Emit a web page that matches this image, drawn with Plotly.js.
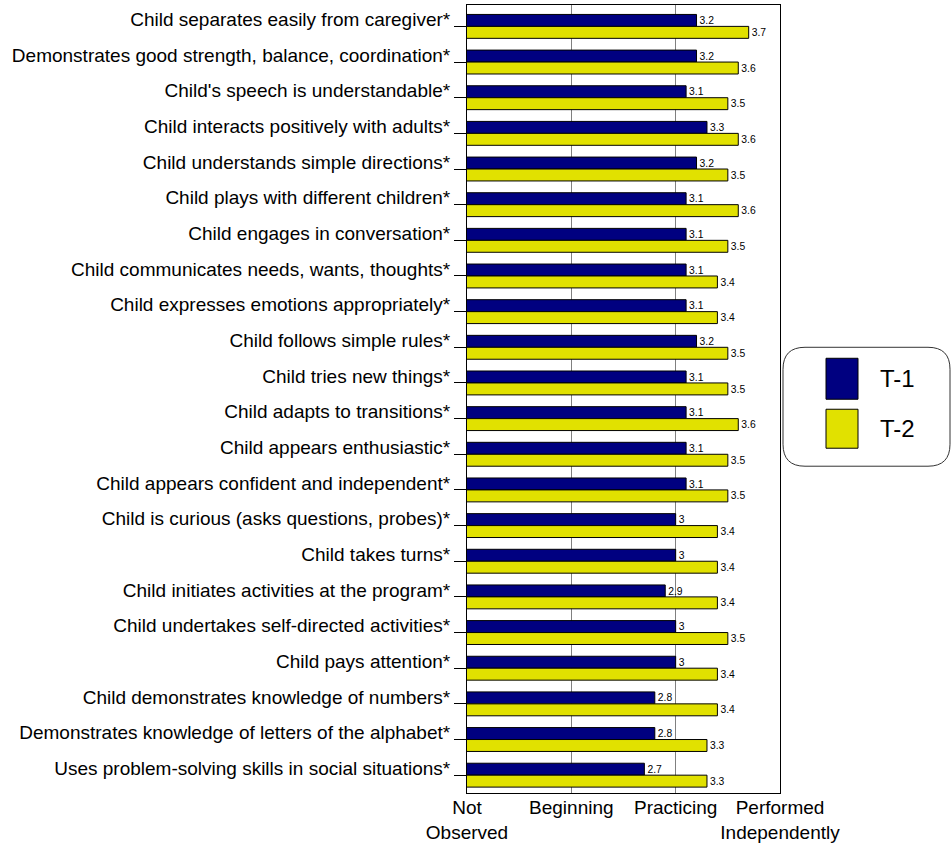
<!DOCTYPE html>
<html><head><meta charset="utf-8">
<script src="https://cdn.plot.ly/plotly-3.0.1.min.js"></script>
<style>html,body{margin:0;padding:0;background:#fff}</style>
</head><body><div id="chart" style="width:951px;height:845px"></div>
<script>
const categories = [
"Child separates easily from caregiver*",
"Demonstrates good strength, balance, coordination*",
"Child's speech is understandable*",
"Child interacts positively with adults*",
"Child understands simple directions*",
"Child plays with different children*",
"Child engages in conversation*",
"Child communicates needs, wants, thoughts*",
"Child expresses emotions appropriately*",
"Child follows simple rules*",
"Child tries new things*",
"Child adapts to transitions*",
"Child appears enthusiastic*",
"Child appears confident and independent*",
"Child is curious (asks questions, probes)*",
"Child takes turns*",
"Child initiates activities at the program*",
"Child undertakes self-directed activities*",
"Child pays attention*",
"Child demonstrates knowledge of numbers*",
"Demonstrates knowledge of letters of the alphabet*",
"Uses problem-solving skills in social situations*"
];
const t1 = [3.2,3.2,3.1,3.3,3.2,3.1,3.1,3.1,3.1,3.2,3.1,3.1,3.1,3.1,3,3,2.9,3,3,2.8,2.8,2.7];
const t2 = [3.7,3.6,3.5,3.6,3.5,3.6,3.5,3.4,3.4,3.5,3.5,3.6,3.5,3.5,3.4,3.4,3.4,3.5,3.4,3.4,3.3,3.3];
const seriesNames = ["T-1","T-2"];
const tickVals = [1,2,3,4];
const tickText = ["Not<br>Observed","Beginning","Practicing","Performed<br>Independently"];

const colors = ["#000080","#e1e100"];
const FONT = "Liberation Sans, Arial, sans-serif";

const traces = [t1,t2].map((vals,i)=>({
  type:"bar", orientation:"h", name:seriesNames[i],
  y:categories, x:vals,
  text:vals.map(v=>String(v)), textposition:"outside", cliponaxis:false,
  textfont:{family:FONT,size:13,color:"#000"},
  marker:{color:colors[i], line:{color:"#000",width:1}},
  hoverinfo:"x+y", showlegend:false
}));

// layout geometry (pixels)
const L=467, R=171, T=4.5, B=52, W=951, H=845;
const pw=W-L-R, ph=H-T-B;
const px=p=>(p-L)/pw, py=p=>(H-B-p)/ph;

// legend (drawn manually with rounded box)
const lx0=783, lx1=950, ly0=347, ly1=466, rr=22;
const roundPath = `M ${px(lx0+rr)},${py(ly0)} L ${px(lx1-rr)},${py(ly0)} Q ${px(lx1)},${py(ly0)} ${px(lx1)},${py(ly0+rr)} L ${px(lx1)},${py(ly1-rr)} Q ${px(lx1)},${py(ly1)} ${px(lx1-rr)},${py(ly1)} L ${px(lx0+rr)},${py(ly1)} Q ${px(lx0)},${py(ly1)} ${px(lx0)},${py(ly1-rr)} L ${px(lx0)},${py(ly0+rr)} Q ${px(lx0)},${py(ly0)} ${px(lx0+rr)},${py(ly0)} Z`;
const shapes = [
  {type:"path",xref:"paper",yref:"paper",path:roundPath,line:{color:"#333",width:1},fillcolor:"#fff"},
  {type:"rect",xref:"paper",yref:"paper",x0:px(826),x1:px(858),y0:py(358),y1:py(399),fillcolor:colors[0],line:{color:"#000",width:1}},
  {type:"rect",xref:"paper",yref:"paper",x0:px(826),x1:px(858),y0:py(409),y1:py(448),fillcolor:colors[1],line:{color:"#000",width:1}}
];
const annotations = [
  {xref:"paper",yref:"paper",x:px(878),y:py(378),xanchor:"left",yanchor:"middle",text:seriesNames[0],showarrow:false,font:{family:FONT,size:24,color:"#000"}},
  {xref:"paper",yref:"paper",x:px(878),y:py(428),xanchor:"left",yanchor:"middle",text:seriesNames[1],showarrow:false,font:{family:FONT,size:24,color:"#000"}}
];

const layout = {
  width:W, height:H,
  margin:{l:L,r:R,t:T,b:B,pad:0},
  paper_bgcolor:"#fff", plot_bgcolor:"#fff",
  barmode:"group", bargap:0.33, bargroupgap:0,
  showlegend:false,
  xaxis:{range:[1,4], tickvals:tickVals, ticktext:tickText, tickangle:0, showgrid:true, gridcolor:"#808080", gridwidth:1,
    zeroline:false, showline:true, linecolor:"#000", linewidth:1, mirror:true, ticks:"", ticklabelstandoff:-3,
    tickfont:{family:FONT,size:19,color:"#000"}, fixedrange:true},
  yaxis:{range:[21.5,-0.6], type:"category", showgrid:false, zeroline:false, showline:true, linecolor:"#000", linewidth:1,
    mirror:true, ticks:"outside", ticklen:12, tickcolor:"#000", tickwidth:1, ticklabelshift:7,
    tickfont:{family:FONT,size:19,color:"#000"}, fixedrange:true},
  shapes:shapes, annotations:annotations,
  uniformtext:{mode:false}
};
Plotly.newPlot("chart", traces, layout, {displayModeBar:false, staticPlot:true});
</script></body></html>
